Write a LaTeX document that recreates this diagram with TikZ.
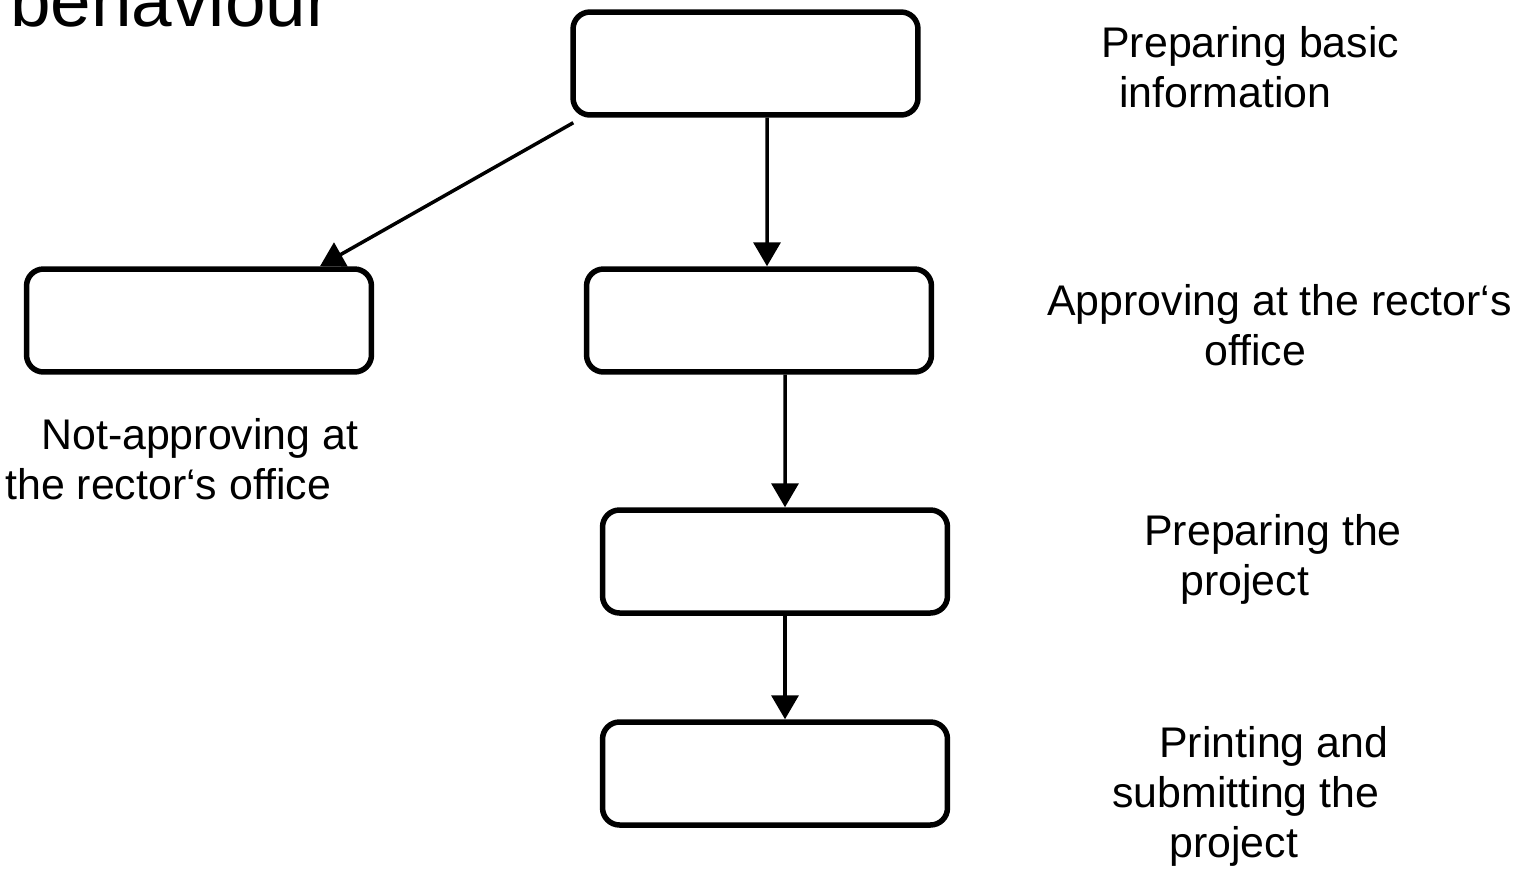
\documentclass[tikz,border=0pt]{standalone}
\usepackage{fontspec}
\setmainfont{Liberation Sans}
\usepackage{xcolor,tikz}
\usetikzlibrary{calc,arrows.meta}
\definecolor{procLine}{HTML}{000000}
\tikzset{
  proc stage/.style={
    rectangle, rounded corners=0.34cm,
    draw=procLine, line width=0.11cm, fill=white,
    minimum width=6.9cm, minimum height=2.06cm,
    inner sep=0pt,
  },
  proc arrow/.style={
    -{Triangle[length=0.48cm, width=0.54cm]},
    line width=0.07cm, color=procLine,
  },
  % base of a multi-line note = baseline of its last line
  proc note/.style={
    anchor=base west, inner sep=0pt, align=left,
    font=\fontsize{24.4}{28.45}\selectfont, text=procLine,
  },
}

\begin{document}
\begin{tikzpicture}[x=0.02cm, y=-0.02cm]

% frame of the slide (pixel grid 1520 x 869)
\useasboundingbox (0,0) rectangle (1520,869);
\clip (0,0) rectangle (1520,869);

% --- title, cut at the top ---
\node[proc note, font=\fontsize{41.5}{48}\selectfont] (title) at (10,26) {behaviour};

% --- STAGES ---
\node[proc stage] (pb1) at (745.5,63.5) {};
\node[proc stage] (pb2) at (199,320.5) {};
\node[proc stage] (pb3) at (759,320.5) {};
\node[proc stage] (pb4) at (775,561.5) {};
\node[proc stage] (pb5) at (775,773.5) {};

% --- ARROWS ---
\draw[proc arrow] ([xshift=0.06cm, yshift=-0.1cm]pb1.south west) -- ([xshift=2.42cm]pb2.north);
\draw[proc arrow] ([xshift=0.43cm]pb1.south) -- ([xshift=0.16cm]pb3.north);
\draw[proc arrow] ([xshift=0.52cm]pb3.south) -- ([xshift=0.2cm]pb4.north);
\draw[proc arrow] ([xshift=0.2cm]pb4.south) -- ([xshift=0.2cm]pb5.north);

% --- LABELS ---
\node[proc note] (pl1) at (1101,107) {Preparing basic\\\hspace*{0.36cm}information};
\node[proc note] (pl2) at (1047,365) {Approving at the rector‘s\\\hspace*{3.14cm}office};
\node[proc note] (pl3) at (5,499) {\hspace*{0.72cm}Not-approving at\\the rector‘s office};
\node[proc note] (pl4) at (1144,595) {Preparing the\\\hspace*{0.72cm}project};
\node[proc note] (pl5) at (1112,857) {\hspace*{0.94cm}Printing and\\submitting the\\\hspace*{1.14cm}project};

\end{tikzpicture}
\end{document}
